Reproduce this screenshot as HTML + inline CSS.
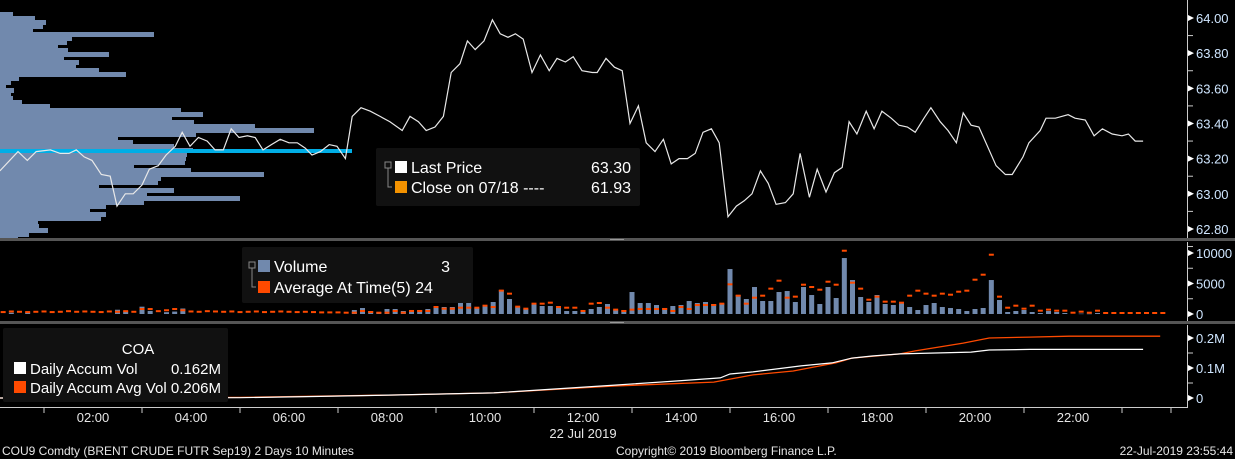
<!DOCTYPE html>
<html><head><meta charset="utf-8">
<style>
html,body{margin:0;padding:0;background:#000;}
body{width:1235px;height:459px;overflow:hidden;position:relative;font-family:"Liberation Sans",sans-serif;}
svg{position:absolute;left:0;top:0;}
text{font-family:"Liberation Sans",sans-serif;}
</style></head>
<body>
<svg id="chart" width="1235" height="459">
  <rect x="0" y="0" width="1235" height="459" fill="#000"/>
  <g id="profile" shape-rendering="crispEdges"></g>
  <rect x="0" y="149" width="352" height="4" fill="#00aee6"/>
  <g id="priceG"></g>
  <g id="volG"></g>
  <g id="accG"></g>
  <g id="axes"></g>
  <rect x="0" y="238" width="1235" height="3" fill="#555"/>
  <rect x="610" y="239" width="14" height="1" fill="#999"/>
  <rect x="0" y="321" width="1235" height="3" fill="#555"/>
  <rect x="610" y="322" width="14" height="1" fill="#999"/>
  <g>
    <rect x="376" y="148" width="264" height="58" rx="2" fill="#111"/>
    <rect x="385" y="162" width="6" height="6" fill="none" stroke="#888" stroke-width="1"/>
    <path d="M388 168 V187 H392" stroke="#888" fill="none"/>
    <rect x="395" y="161" width="12" height="12" fill="#fff"/>
    <rect x="395" y="181" width="12" height="12" fill="#f39200"/>
    <text x="411" y="173" fill="#fff" font-size="16">Last Price</text>
    <text x="631" y="173" fill="#fff" font-size="16" text-anchor="end">63.30</text>
    <text x="411" y="193" fill="#fff" font-size="16">Close on 07/18 ---- </text>
    <text x="631" y="193" fill="#fff" font-size="16" text-anchor="end">61.93</text>
  </g>
  <g>
    <rect x="242" y="247" width="231" height="56" rx="2" fill="#111"/>
    <rect x="249" y="262" width="6" height="6" fill="none" stroke="#888"/>
    <path d="M252 268 V287 H256" stroke="#888" fill="none"/>
    <rect x="258" y="260" width="12" height="12" fill="#7189ad"/>
    <rect x="258" y="281" width="12" height="12" fill="#ff4a00"/>
    <text x="274" y="272" fill="#fff" font-size="16">Volume</text>
    <text x="450" y="272" fill="#fff" font-size="16" text-anchor="end">3</text>
    <text x="274" y="293" fill="#fff" font-size="16">Average At Time(5) 24</text>
  </g>
  <g>
    <rect x="3" y="328" width="225" height="74" rx="2" fill="#111"/>
    <text x="138" y="354" fill="#fff" font-size="15" text-anchor="middle">COA</text>
    <rect x="14" y="362" width="12" height="12" fill="#fff"/>
    <rect x="14" y="381" width="12" height="12" fill="#ff4a00"/>
    <text x="30" y="374" fill="#fff" font-size="15">Daily Accum Vol</text>
    <text x="221" y="374" fill="#fff" font-size="15" text-anchor="end">0.162M</text>
    <text x="30" y="393" fill="#fff" font-size="15" textLength="191" lengthAdjust="spacingAndGlyphs">Daily Accum Avg Vol 0.206M</text>
  </g>
  <text x="2" y="455" fill="#e6e6e6" font-size="12">COU9 Comdty (BRENT CRUDE FUTR  Sep19) 2 Days 10 Minutes</text>
  <text x="616" y="455" fill="#e6e6e6" font-size="12">Copyright© 2019 Bloomberg Finance L.P.</text>
  <text x="1233" y="455" fill="#e6e6e6" font-size="12" text-anchor="end">22-Jul-2019 23:55:44</text>
  <text x="583" y="438" fill="#e6e6e6" font-size="13" text-anchor="middle">22 Jul 2019</text>
</svg>
<script>
const priceTimes=[0.10,0.47,0.66,0.84,1.13,1.33,1.51,1.66,1.82,1.98,2.17,2.35,2.49,2.66,2.82,3.00,3.15,3.33,3.49,3.68,3.82,3.98,4.15,4.33,4.49,4.66,4.82,4.98,5.15,5.31,5.47,5.64,5.82,6.00,6.17,6.33,6.47,6.64,6.82,6.98,7.15,7.29,7.47,7.66,7.86,8.06,8.31,8.47,8.64,8.80,8.98,9.15,9.31,9.49,9.64,9.80,9.98,10.15,10.31,10.47,10.62,10.78,10.96,11.13,11.31,11.47,11.64,11.80,11.98,12.19,12.29,12.47,12.64,12.80,12.96,13.13,13.29,13.47,13.64,13.80,13.96,14.13,14.29,14.45,14.62,14.78,14.96,15.13,15.29,15.45,15.62,15.78,15.94,16.13,16.29,16.43,16.62,16.78,16.96,17.13,17.29,17.43,17.59,17.78,17.94,18.10,18.29,18.45,18.62,18.78,18.96,19.10,19.29,19.45,19.62,19.76,19.92,20.08,20.43,20.62,20.76,20.98,21.10,21.33,21.45,21.64,21.90,22.04,22.25,22.43,22.60,22.80,23.00,23.13,23.27,23.43];
const priceValues=[63.13,63.24,63.19,63.24,63.25,63.23,63.23,63.25,63.21,63.19,63.11,63.10,62.93,63.00,63.00,63.05,63.14,63.16,63.22,63.27,63.35,63.27,63.32,63.30,63.25,63.25,63.37,63.32,63.33,63.32,63.25,63.28,63.31,63.29,63.29,63.26,63.22,63.24,63.28,63.27,63.20,63.44,63.49,63.47,63.44,63.41,63.36,63.44,63.41,63.36,63.38,63.44,63.69,63.74,63.87,63.82,63.87,63.99,63.91,63.89,63.91,63.88,63.69,63.79,63.70,63.77,63.75,63.78,63.70,63.69,63.69,63.77,63.72,63.70,63.40,63.50,63.29,63.24,63.31,63.17,63.20,63.20,63.23,63.35,63.37,63.29,62.87,62.93,62.96,63.00,63.13,63.06,62.94,62.95,63.00,63.23,62.98,63.14,63.01,63.12,63.15,63.41,63.34,63.47,63.37,63.47,63.43,63.39,63.38,63.35,63.43,63.49,63.41,63.36,63.29,63.46,63.39,63.38,63.16,63.11,63.11,63.21,63.29,63.36,63.43,63.43,63.45,63.43,63.42,63.33,63.37,63.34,63.33,63.34,63.30,63.30];
const priceTicks=["64.00","63.80","63.60","63.40","63.20","63.00","62.80"];
const profileTopPrice=64.02, profileStep=0.02275;
const profileVolume=[1300,3500,4600,4300,3300,15400,7200,6700,5800,6800,10900,6400,7900,7600,9900,12600,1900,1100,600,1400,1100,1300,2200,5000,18100,20300,17200,19400,25500,31400,19600,11800,13300,17400,19300,18700,18600,18500,13400,19100,26400,16100,15800,9900,17400,14700,24000,14400,10600,9000,10600,10100,3800,3900,4800,2900,1800];
const volSlots=[2,4,15,16,18,19,21,22,23,44,45,46,47,48,49,50,51,52,53,54,55,56,57,58,59,60,61,62,63,64,65,66,67,68,69,70,71,72,73,74,75,76,77,78,79,80,81,82,83,84,85,86,87,88,89,90,91,92,93,94,95,96,97,98,99,100,101,102,103,104,105,106,107,108,109,110,111,112,113,114,115,116,117,118,119,120,121,122,123,124,125,126,127,128,129,130,131,133,134,135];
const volValues=[200,250,700,400,1200,500,300,400,900,655,983,491,328,819,819,491,655,655,819,1310,1147,1147,2293,1966,983,1310,1966,3931,2457,1147,819,1638,1310,1310,1310,491,491,655,819,1147,1638,655,655,3604,1802,1802,1474,983,1310,1474,2130,1802,1966,1638,1692,7371,3122,2457,4423,2130,2130,3604,3767,1966,4423,3112,1638,4423,2621,9173,5569,2785,1966,3112,1638,1474,1802,1147,655,1474,1802,1147,983,819,491,819,983,5569,2293,328,491,655,328,164,491,328,164,60,50,164];
const avgValues=[200,150,250,200,150,200,250,150,200,300,200,250,200,150,250,200,300,200,650,650,300,450,650,450,250,200,300,250,200,250,150,200,250,150,200,250,200,150,200,150,100,100,100,50,50,330,160,50,50,330,50,330,330,330,980,710,710,870,870,870,1200,980,3670,3170,1040,710,1530,1530,1690,980,870,870,330,1530,1640,870,550,330,550,660,660,660,660,330,980,660,1310,1310,1310,1530,4700,2840,1530,2510,2840,3990,5300,2510,2680,4640,4260,3820,5130,4640,10210,4970,3990,2180,2680,1860,1860,1690,2840,3660,3170,2840,3170,3000,3490,3660,5460,6280,9555,2680,870,1200,710,1200,380,550,380,380,50,220,50,380,0,0,0,0,0,0,0,0];
const volTicks=["10000","5000","0"];
const accTimes=[0.10,5.0,6.5,8.16,10.18,12.65,13.94,14.8,15.0,15.47,16.45,17.08,17.49,17.9,18.47,19.92,20.29,21.12,23.43];
const accVol=[0,0.001,0.005,0.010,0.017,0.043,0.057,0.067,0.080,0.087,0.107,0.117,0.133,0.140,0.147,0.153,0.160,0.162,0.162];
const accAvgTimes=[0.10,5.0,8.16,10.18,12.65,14.67,15.47,16.29,17.16,17.49,18.47,18.78,19.76,20.29,21.12,21.92,23.78];
const accAvgVol=[0,0.002,0.010,0.017,0.040,0.053,0.077,0.090,0.117,0.133,0.147,0.157,0.183,0.200,0.203,0.206,0.206];
const accTicks=["0.2M","0.1M","0"];
const hourLabels=["02:00","04:00","06:00","08:00","10:00","12:00","14:00","16:00","18:00","20:00","22:00"];

const NS="http://www.w3.org/2000/svg";
const X=h=>-5+49*h;
const slotX=s=>X(s/6);
const PY=p=>18+(64-p)*175.8;
const VY=v=>314-v*0.0061;
const AY=v=>398-v*300;
function mk(tag,attrs,parent){const e=document.createElementNS(NS,tag);for(const k in attrs)e.setAttribute(k,attrs[k]);parent.appendChild(e);return e;}

const prof=document.getElementById('profile');
profileVolume.forEach((v,i)=>{
  const p=profileTopPrice-i*profileStep;
  const r=mk('rect',{x:0,y:Math.round(PY(p)-2),width:Math.round(v*0.01),height:5,fill:'#7189ad'},prof);
  
  
});

const pg=document.getElementById('priceG');
const pl=mk('polyline',{points:priceTimes.map((t,i)=>X(t).toFixed(1)+','+PY(priceValues[i]).toFixed(1)).join(' '),fill:'none',stroke:'#e8e8e8','stroke-width':1.2},pg);



const vg=document.getElementById('volG');
volSlots.forEach((s,i)=>{
  const y=VY(volValues[i]);
  const r=mk('rect',{x:slotX(s)-2.5,y:y,width:5,height:Math.max(314-y,0.5),fill:'#7189ad'},vg);
  
  
});
avgValues.forEach((v,s)=>{
  const r=mk('rect',{x:slotX(s)-2.5,y:VY(v)-2,width:5,height:2,fill:'#ff4a00'},vg);
  
  
});

const ag=document.getElementById('accG');
const l1=mk('polyline',{points:accAvgTimes.map((t,i)=>X(t).toFixed(1)+','+AY(accAvgVol[i]).toFixed(1)).join(' '),fill:'none',stroke:'#ff4a00','stroke-width':1.3},ag);


const l2=mk('polyline',{points:accTimes.map((t,i)=>X(t).toFixed(1)+','+AY(accVol[i]).toFixed(1)).join(' '),fill:'none',stroke:'#ffffff','stroke-width':1.2},ag);



const ax=document.getElementById('axes');
mk('line',{x1:1187.5,y1:0,x2:1187.5,y2:238,stroke:'#ccc'},ax);
mk('line',{x1:1187.5,y1:242,x2:1187.5,y2:321,stroke:'#ccc'},ax);
mk('line',{x1:1187.5,y1:325,x2:1187.5,y2:407,stroke:'#ccc'},ax);
function ytick(y,label,name){
  mk('path',{d:`M1188 ${y-3} L1194 ${y} L1188 ${y+3} Z`,fill:'#fff'},ax);
  const t=mk('text',{x:1196,y:y+5,fill:'#cfe6ff','font-size':13},ax);
  t.textContent=label;
  
  
}
function minor(y){mk('line',{x1:1188,y1:y,x2:1193,y2:y,stroke:'#ccc'},ax);}
priceTicks.forEach(l=>{const p=parseFloat(l);ytick(PY(p),l,'price-tick-label');minor(PY(p-0.1));});
volTicks.forEach(l=>{const v=parseFloat(l);ytick(VY(v),l,'volume-tick-label');if(v>0)minor(VY(v-2500));});
accTicks.forEach(l=>{const v=parseFloat(l);ytick(AY(v),l,'accum-tick-label');if(v>0)minor(AY(v-0.05));});
mk('line',{x1:0,y1:407.5,x2:1188,y2:407.5,stroke:'#ccc'},ax);
hourLabels.forEach(l=>{
  const h=parseInt(l,10);
  const t=mk('text',{x:X(h),y:422,fill:'#e6e6e6','font-size':13,'text-anchor':'middle'},ax);
  t.textContent=l;
  
  
  mk('line',{x1:X(h-1),y1:408,x2:X(h-1),y2:413,stroke:'#ccc'},ax);
});
mk('line',{x1:X(23),y1:408,x2:X(23),y2:413,stroke:'#ccc'},ax);
mk('line',{x1:X(24),y1:408,x2:X(24),y2:413,stroke:'#ccc'},ax);
</script>
</body></html>
